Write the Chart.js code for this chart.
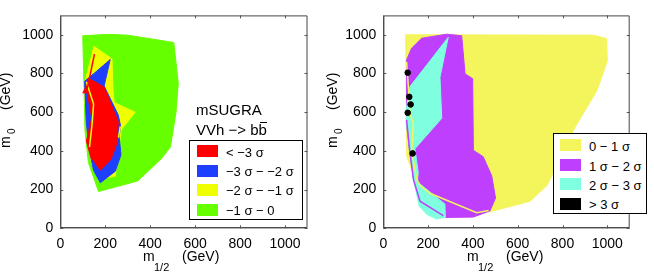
<!DOCTYPE html>
<html>
<head>
<meta charset="utf-8">
<script src="https://cdn.jsdelivr.net/npm/chart.js@4.4.0/dist/chart.umd.min.js"></script>
<style>
  body { margin: 0; background: #fff; width: 654px; height: 278px; overflow: hidden; position: relative; }
  canvas { position: absolute; top: 0; }
  #leftChart { left: 0; }
  #rightChart { left: 327px; }
  .lbl { position: absolute; white-space: nowrap; font-family: "Liberation Sans", Arial, sans-serif; color: #000; }
  .t14 { font-size: 14px; line-height: 14px; }
  .t11 { font-size: 11px; line-height: 11px; }
  .t10 { font-size: 10px; line-height: 10px; }
  .t13 { font-size: 13px; line-height: 13px; }
  .t15 { font-size: 15px; line-height: 15px; }
  .rot { transform: rotate(-90deg); transform-origin: 0 0; }
  .box { position: absolute; border: 1px solid #000; background: #fff; box-sizing: border-box; }
  .sw { position: absolute; width: 21px; height: 12px; }
  .bar { position: relative; }
  .bar i { position: absolute; left: 1px; right: 0; top: 1px; border-top: 1px solid #000; }
</style>
</head>
<body>
<canvas id="leftChart" width="327" height="278"></canvas>
<canvas id="rightChart" width="327" height="278"></canvas>

<!-- axis titles -->
<div class="lbl t14" style="left:143px;top:249px">m</div>
<div class="lbl t11" style="left:154px;top:262px">1/2</div>
<div class="lbl t14" style="left:182px;top:249px">(GeV)</div>
<div class="lbl t14" style="left:467px;top:249px">m</div>
<div class="lbl t11" style="left:478px;top:262px">1/2</div>
<div class="lbl t14" style="left:506px;top:249px">(GeV)</div>

<div class="lbl t14 rot" style="left:-2px;top:148px">m</div>
<div class="lbl t10 rot" style="left:7px;top:134px">0</div>
<div class="lbl t14 rot" style="left:-2px;top:110px">(GeV)</div>
<div class="lbl t14 rot" style="left:325px;top:148px">m</div>
<div class="lbl t10 rot" style="left:334px;top:134px">0</div>
<div class="lbl t14 rot" style="left:325px;top:110px">(GeV)</div>

<!-- left annotation + legend -->
<div class="lbl t15" style="left:196px;top:102px">mSUGRA</div>
<div class="lbl t15" style="left:196px;top:122px">VVh −&gt; b<span class="bar">b<i></i></span></div>
<div class="box" style="left:189px;top:140px;width:114px;height:80px"></div>
<div id="legendLeft"></div>

<!-- right legend -->
<div class="box" style="left:553px;top:133px;width:94px;height:81px"></div>
<div id="legendRight"></div>

<script>
// axis ticks (both panels)
const xTicks = [0, 200, 400, 600, 800, 1000];
const yTicks = [0, 200, 400, 600, 800, 1000];

// left panel regions [m1/2, m0] in GeV
const greenRegion = [[100,995],[215,1002],[300,998],[505,960],[525,750],[515,600],[490,420],[450,360],[345,245],[170,190],[125,340],[110,500],[100,995]];
const yellowRegionL = [[150,940],[230,875],[235,700],[240,650],[333,600],[272,510],[258,400],[250,330],[245,270],[178,255],[140,330],[122,450],[112,640],[110,760],[150,940]];
const blueRegion = [[222,872],[195,735],[258,585],[268,530],[262,470],[270,380],[245,295],[178,235],[148,300],[126,420],[115,560],[108,760],[150,800],[222,872]];
const redRegion = [[125,775],[195,730],[258,550],[252,440],[225,355],[178,300],[135,370],[116,450],[140,570],[120,700],[100,700],[110,720],[125,775]];
const redLine = [[119,716],[152,900]];
const yellowLineL = [[116,757],[148,642],[141,534],[130,419]];
const yellowNotch = [[267,526],[259,469]];

// right panel regions
const yellowRegionR = [[100,1000],[940,998],[997,980],[1000,865],[955,715],[855,520],[790,360],[730,220],[655,140],[476,85],[300,90],[160,200],[105,370],[100,1000]];
const purpleRegion = [[126,930],[171,982],[283,1003],[350,995],[365,798],[399,773],[402,403],[446,370],[484,271],[501,156],[476,90],[402,58],[280,56],[193,115],[135,250],[118,400],[104,534],[104,870],[126,930]];
const cyanRegion = [[290,987],[253,780],[261,568],[141,411],[156,288],[152,240],[275,125],[277,57],[238,48],[194,72],[160,115],[135,250],[118,400],[104,534],[102,600],[110,680],[119,732],[290,987]];
const yellowLineR = [[104,860],[112,730],[119,590],[134,545],[127,400],[149,255],[164,222],[208,181],[417,80],[470,92]];
const purpleLineR = [[104,560],[118,400],[135,250],[164,140],[268,66]];
const blackPoints = [[109,804],[116,679],[122,640],[109,597],[131,387]];

const leftLabels = ['< −3 σ', '−3 σ − −2 σ', '−2 σ − −1 σ', '−1 σ − 0'];
const leftColors = ['#ff0000', '#1f3fff', '#f0ff00', '#66ff00'];
const rightLabels = ['0 − 1 σ', '1 σ − 2 σ', '2 σ − 3 σ', '> 3 σ'];
const rightColors = ['#f4f45c', '#bf3fff', '#7fffdf', '#000000'];

const pts = a => a.map(([x, y]) => ({ x, y }));

function region(data, color, order) {
    return { data: pts(data), showLine: true, fill: 'shape', backgroundColor: color, borderColor: color,
             borderWidth: 1, pointRadius: 0, tension: 0, order: order };
}
function line(data, color, order) {
    return { data: pts(data), showLine: true, fill: false, borderColor: color, borderWidth: 1.5,
             pointRadius: 0, tension: 0, order: order };
}

const tickFont = { family: 'Liberation Sans', size: 14 };

function makeScales(yWidth) {
    return {
        x: {
            type: 'linear', min: 0, max: 1100,
            afterBuildTicks: s => { s.ticks = xTicks.map(v => ({ value: v })); },
            ticks: { font: tickFont, color: '#000', padding: 7, maxRotation: 0, callback: v => String(v) },
            grid: { display: false, drawTicks: false, tickLength: 0 }, border: { display: false },
            afterFit: s => { s.height = 278 - 228.3; }
        },
        y: {
            type: 'linear', min: 0, max: 1100,
            afterBuildTicks: s => { s.ticks = yTicks.map(v => ({ value: v })); },
            ticks: { font: tickFont, color: '#000', padding: 7, callback: v => String(v) },
            grid: { display: false, drawTicks: false, tickLength: 0 }, border: { display: false },
            afterFit: s => { s.width = yWidth; }
        }
    };
}

// box around the plot with small inward ticks on all sides
const framePlugin = {
    id: 'frame',
    afterDatasetsDraw(chart) {
        const { ctx, chartArea: a, scales: { x, y } } = chart;
        ctx.save();
        ctx.strokeStyle = '#000';
        ctx.lineWidth = 1;
        ctx.beginPath();
        ctx.moveTo(a.left + 0.5, a.top + 0.5);
        ctx.lineTo(a.left + 0.5, a.bottom - 0.5);
        ctx.lineTo(a.right - 0.5, a.bottom - 0.5);
        ctx.stroke();
        ctx.strokeStyle = '#444';
        ctx.beginPath();
        ctx.moveTo(a.left + 0.5, a.top + 0.5);
        ctx.lineTo(a.right - 0.5, a.top + 0.5);
        ctx.lineTo(a.right - 0.5, a.bottom - 0.5);
        ctx.stroke();
        ctx.strokeStyle = '#555';
        ctx.beginPath();
        xTicks.forEach(v => {
            const px = Math.round(x.getPixelForValue(v)) + 0.5;
            ctx.moveTo(px, a.bottom); ctx.lineTo(px, a.bottom - 3);
            ctx.moveTo(px, a.top); ctx.lineTo(px, a.top + 3);
        });
        yTicks.forEach(v => {
            const py = Math.round(y.getPixelForValue(v)) + 0.5;
            ctx.moveTo(a.left, py); ctx.lineTo(a.left + 3, py);
            ctx.moveTo(a.right, py); ctx.lineTo(a.right - 3, py);
        });
        ctx.stroke();
        ctx.restore();
    }
};

function baseOptions(yWidth, padRight) {
    return {
        responsive: false,
        animation: false,
        devicePixelRatio: 1,
        events: [],
        layout: { padding: { left: 0, top: 5, right: padRight, bottom: 0 } },
        plugins: { legend: { display: false }, tooltip: { enabled: false } },
        scales: makeScales(yWidth)
    };
}

new Chart(document.getElementById('leftChart'), {
    type: 'scatter',
    data: {
        datasets: [
            line(redLine, '#ff0000', 1),
            line(yellowLineL, '#f0ff00', 1),
            line(yellowNotch, '#f0ff00', 1),
            region(redRegion, '#ff0000', 2),
            region(blueRegion, '#1f3fff', 3),
            region(yellowRegionL, '#f0ff00', 4),
            region(greenRegion, '#66ff00', 5)
        ]
    },
    options: baseOptions(60.3, 19.5),
    plugins: [framePlugin]
});

new Chart(document.getElementById('rightChart'), {
    type: 'scatter',
    data: {
        datasets: [
            { data: pts(blackPoints), backgroundColor: '#000', borderColor: '#000', pointRadius: 2.8, order: 0 },
            line(yellowLineR, '#f4f45c', 1),
            line(purpleLineR, '#bf3fff', 1),
            region(cyanRegion, '#7fffdf', 2),
            region(purpleRegion, '#bf3fff', 3),
            region(yellowRegionR, '#f4f45c', 4)
        ]
    },
    options: baseOptions(56.3, 24.3),
    plugins: [framePlugin]
});

// legends
function buildLegend(el, labels, colors, swLeft, textLeft, tops) {
    labels.forEach((lab, i) => {
        const sw = document.createElement('div');
        sw.className = 'sw';
        sw.style.left = swLeft + 'px';
        sw.style.top = tops[i] + 'px';
        sw.style.background = colors[i];
        el.appendChild(sw);
        const t = document.createElement('div');
        t.className = 'lbl t13';
        t.style.left = textLeft + 'px';
        t.style.top = (tops[i] + 0.2) + 'px';
        t.textContent = lab;
        el.appendChild(t);
    });
}
buildLegend(document.getElementById('legendLeft'), leftLabels, leftColors, 197, 226, [145.3, 164.7, 184, 203.7]);
buildLegend(document.getElementById('legendRight'), rightLabels, rightColors, 560, 589, [139.3, 159.3, 178.3, 197.7]);
</script>
</body>
</html>
